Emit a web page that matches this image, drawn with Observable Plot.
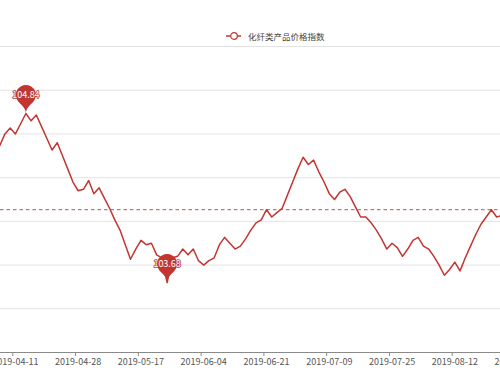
<!DOCTYPE html>
<html>
<head>
<meta charset="utf-8">
<script src="https://cdn.jsdelivr.net/npm/d3@7"></script>
<script src="https://cdn.jsdelivr.net/npm/@observablehq/plot@0.6"></script>
<style>
html, body { margin: 0; padding: 0; background: #fff; overflow: hidden; width: 500px; height: 375px; }
#legend { position: absolute; left: 226px; top: 30px; height: 12px; display: flex; align-items: center;
  font-family: "Noto Sans CJK SC", sans-serif; font-size: 8.5px; color: #444; white-space: nowrap; }
#legend svg { margin-right: 6px; }
#chart { position: absolute; left: 0; top: 44px; }
</style>
</head>
<body>
<div id="legend"></div>
<div id="chart"></div>
<script>
// ---- data ----
const seriesName = "化纤类产品价格指数";
const categories = [
  "2019-04-08","2019-04-09","2019-04-10","2019-04-11","2019-04-12","2019-04-15","2019-04-16","2019-04-17","2019-04-18","2019-04-19",
  "2019-04-22","2019-04-23","2019-04-24","2019-04-25","2019-04-26","2019-04-28","2019-04-29","2019-04-30","2019-05-06","2019-05-07",
  "2019-05-08","2019-05-09","2019-05-10","2019-05-13","2019-05-14","2019-05-15","2019-05-16","2019-05-17","2019-05-20","2019-05-21",
  "2019-05-22","2019-05-23","2019-05-24","2019-05-27","2019-05-28","2019-05-29","2019-05-30","2019-05-31","2019-06-03","2019-06-04",
  "2019-06-05","2019-06-06","2019-06-10","2019-06-11","2019-06-12","2019-06-13","2019-06-14","2019-06-17","2019-06-18","2019-06-19",
  "2019-06-20","2019-06-21","2019-06-24","2019-06-25","2019-06-26","2019-06-27","2019-06-28","2019-07-01","2019-07-02","2019-07-03",
  "2019-07-04","2019-07-05","2019-07-08","2019-07-09","2019-07-10","2019-07-11","2019-07-12","2019-07-15","2019-07-16","2019-07-17",
  "2019-07-18","2019-07-19","2019-07-22","2019-07-23","2019-07-24","2019-07-25","2019-07-26","2019-07-29","2019-07-30","2019-07-31",
  "2019-08-01","2019-08-02","2019-08-05","2019-08-06","2019-08-07","2019-08-08","2019-08-09","2019-08-12","2019-08-13","2019-08-14",
  "2019-08-15","2019-08-16","2019-08-19","2019-08-20","2019-08-21","2019-08-22","2019-08-23","2019-08-26","2019-08-27","2019-08-28"
];
const values = [
  104.62,104.70,104.74,104.70,104.77,104.84,104.79,104.83,104.75,104.67,
  104.59,104.64,104.55,104.46,104.37,104.31,104.32,104.38,104.29,104.33,
  104.26,104.19,104.11,104.04,103.94,103.84,103.91,103.97,103.94,103.95,
  103.87,103.85,103.68,103.85,103.86,103.91,103.87,103.91,103.83,103.80,
  103.83,103.85,103.94,103.99,103.95,103.91,103.93,103.98,104.04,104.09,
  104.11,104.18,104.13,104.16,104.19,104.28,104.37,104.46,104.54,104.49,
  104.52,104.44,104.37,104.29,104.25,104.30,104.32,104.27,104.20,104.13,
  104.13,104.09,104.04,103.98,103.91,103.95,103.92,103.86,103.91,103.97,
  103.99,103.93,103.91,103.86,103.80,103.73,103.77,103.82,103.76,103.85,
  103.93,104.01,104.08,104.13,104.18,104.13,104.14
];
const averageValue = 104.18;
const xTickLabels = ["2019-04-11","2019-04-28","2019-05-17","2019-06-04","2019-06-21","2019-07-09","2019-07-25","2019-08-12","2019-08-28"];
const yTicks = [103.2, 103.5, 103.8, 104.1, 104.4, 104.7, 105.0, 105.3];

// ---- styles ----
const red = "#c23531";
const gridColor = "#e3e3e3";
const axisColor = "#8a8a8a";
const labelColor = "#555";
const font = '"Noto Sans CJK SC", "Noto Sans", sans-serif';

// ---- legend ----
document.getElementById("legend").innerHTML =
  `<svg width="16" height="10"><line x1="0" y1="5" x2="15" y2="5" stroke="${red}" stroke-width="1.5"/>` +
  `<circle cx="8" cy="5" r="3.3" fill="#fff" stroke="${red}" stroke-width="1.2"/></svg><span>${seriesName}</span>`;

// ---- rows ----
const rows = values.map((v, k) => ({k, date: categories[k], v}));
const vMax = d3.max(values), vMin = d3.min(values);
const marks = [rows.find(d => d.v === vMax), rows.find(d => d.v === vMin)];
const tickPos = xTickLabels.map(l => categories.indexOf(l));

// ECharts-like pin symbol, tip at the data point
const pin = {
  draw(ctx) {
    const w = 20, h = 33, r = w / 2;
    const dy = r * r / (h - r);
    const cy = -h + r + dy;
    const a = Math.asin(dy / r);
    const dx = Math.cos(a) * r;
    const tx = Math.sin(a), ty = Math.cos(a);
    const c1 = r * 0.6, c2 = r * 0.7;
    ctx.moveTo(-dx, cy + dy);
    ctx.arc(0, cy, r, Math.PI - a, Math.PI * 2 + a);
    ctx.bezierCurveTo(dx - tx * c1, cy + dy + ty * c1, 0, -c2, 0, 0);
    ctx.bezierCurveTo(0, -c2, -dx + tx * c1, cy + dy + ty * c1, -dx, cy + dy);
    ctx.closePath();
  }
};

const chart = Plot.plot({
  width: 500,
  height: 331,
  marginLeft: 0,
  marginRight: 0,
  marginTop: 2,
  marginBottom: 23,
  style: {fontFamily: font, fontSize: "9px", background: "transparent"},
  x: {type: "linear", domain: [0.649, 96.232], axis: null},
  y: {domain: [103.2, 105.3], axis: null},
  marks: [
    Plot.ruleY(yTicks.slice(1), {stroke: gridColor, strokeWidth: 1}),
    Plot.ruleY(yTicks.slice(0, 1), {stroke: axisColor, strokeWidth: 1}),
    Plot.ruleY([averageValue], {stroke: "#cc4a46", strokeWidth: 1, strokeDasharray: "3.5,3", clip: true}),
    Plot.line(rows, {x: d => d.k + 0.5, y: "v", stroke: red, strokeWidth: 1.5, clip: true}),
    Plot.dot(marks, {x: d => d.k + 0.5, y: "v", symbol: pin, fill: red, stroke: "none"}),
    Plot.text(marks, {x: d => d.k + 0.5, y: "v", text: d => d.v.toFixed(2), dy: -18, fill: "#fff",
      stroke: "#b83a37", strokeWidth: 1.6, fontSize: 9}),
    Plot.axisX(tickPos, {tickSize: 4, tickFormat: () => "", stroke: axisColor}),
    Plot.text(tickPos, {x: d => d + 0.5, y: yTicks[0], text: d => categories[d], dy: 10, fill: labelColor, fontSize: 9})
  ]
});
document.getElementById("chart").appendChild(chart);
</script>
</body>
</html>
